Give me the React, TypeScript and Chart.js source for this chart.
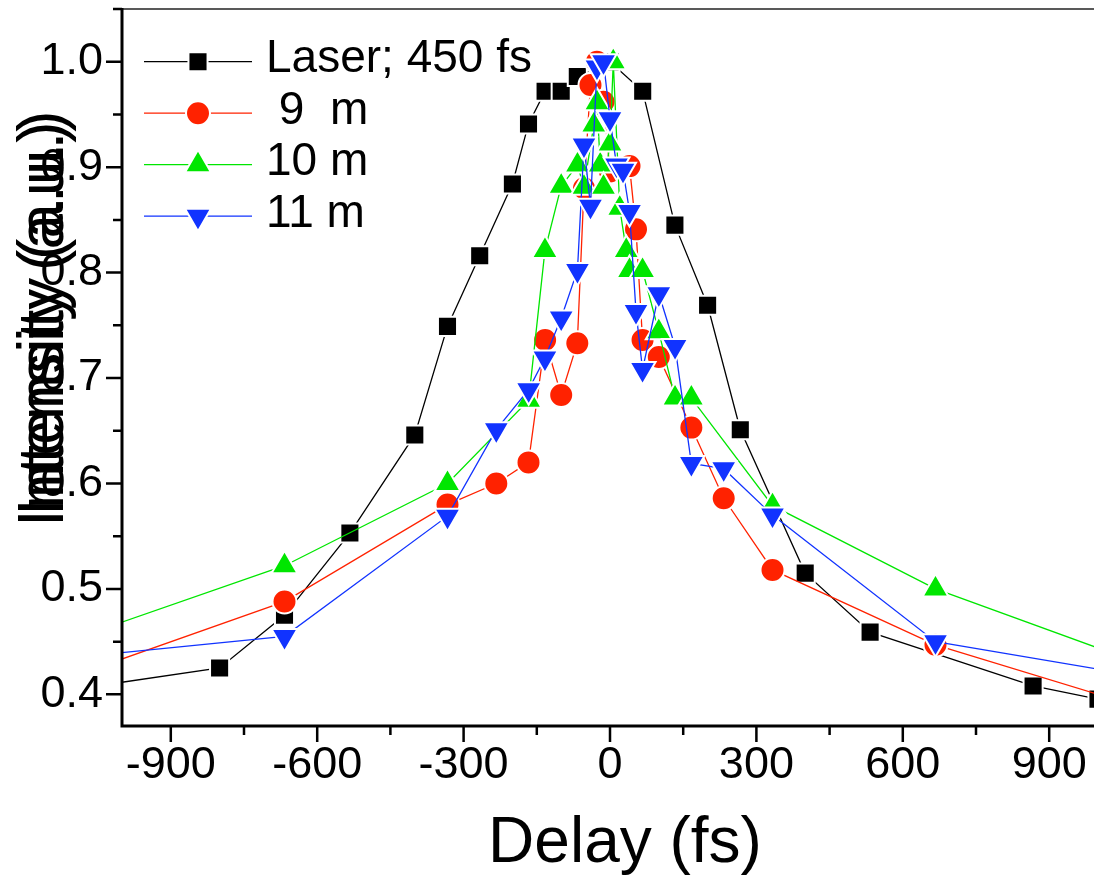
import React, { useEffect, useRef } from 'react';
import { Chart, registerables } from 'chart.js';

Chart.register(...registerables);

// ---------- data ----------
const xMajorTicks = [-900, -600, -300, 0, 300, 600, 900];
const xMinorTicks = [-750, -450, -150, 150, 450, 750];
const yMajorTicks = [0.4, 0.5, 0.6, 0.7, 0.8, 0.9, 1.0];
const yMinorTicks = [0.45, 0.55, 0.65, 0.75, 0.85, 0.95, 1.05];

const xAxisTitle = 'Delay (fs)';
const yAxisTitle = 'Intensity (a.u.)';

const seriesLabels = ['Laser; 450 fs', ' 9  m', '10 m', '11 m'];

const laserX = [-1067, -800, -667, -533, -400, -333, -267, -200, -167, -133, -100, -67, 0, 67, 133, 200, 267, 400, 533, 867, 1000];
const laserY = [0.407, 0.425, 0.475, 0.553, 0.646, 0.749, 0.816, 0.884, 0.941, 0.972, 0.972, 0.986, 1.0, 0.972, 0.845, 0.769, 0.651, 0.515, 0.459, 0.408, 0.3955];

const m9X = [-1333, -667, -333, -233, -167, -133, -100, -67, -53.3, -40, -26.7, -13.3, 0, 40, 53.3, 66.7, 100, 166.7, 233, 333, 667, 1333];
const m9Y = [0.379, 0.488, 0.58, 0.6, 0.62, 0.736, 0.684, 0.733, 0.88, 0.978, 1.0, 0.962, 0.896, 0.901, 0.841, 0.736, 0.72, 0.653, 0.586, 0.518, 0.447, 0.353];

const m10X = [-1333, -667, -333, -166.7, -133.3, -100, -66.7, -53.3, -33.3, -26.7, -20, -13.3, 0, 6.7, 20, 33.3, 40, 66.7, 100, 133.3, 166.7, 333, 667, 1333];
const m10Y = [0.415, 0.522, 0.6, 0.679, 0.821, 0.882, 0.902, 0.881, 0.94, 0.961, 0.902, 0.881, 0.922, 1.0, 0.861, 0.821, 0.802, 0.802, 0.744, 0.681, 0.681, 0.579, 0.5, 0.388];

const m11X = [-1333, -667, -333, -233, -166.7, -133.3, -100, -66.7, -53.3, -40, -26.7, -13.3, 0, 13.3, 26.7, 40, 53.3, 66.7, 100, 133.3, 166.7, 233, 333, 667, 1333];
const m11Y = [0.424, 0.455, 0.569, 0.651, 0.689, 0.719, 0.757, 0.802, 0.921, 0.863, 0.995, 1.0, 0.946, 0.902, 0.897, 0.858, 0.763, 0.708, 0.78, 0.73, 0.619, 0.614, 0.57, 0.45, 0.398];

const FONT = '"Liberation Sans", Arial, sans-serif';

const toPoints = (xs: number[], ys: number[]) => xs.map((x, i) => ({ x, y: ys[i] }));

function markerPath(ctx: CanvasRenderingContext2D, style: string, rot: number, x: number, y: number, r: number) {
  ctx.beginPath();
  if (style === 'rect') {
    const s = Math.SQRT1_2 * r;
    ctx.rect(x - s, y - s, 2 * s, 2 * s);
  } else if (style === 'circle') {
    ctx.arc(x, y, r, 0, Math.PI * 2);
  } else {
    let rad = (rot * Math.PI) / 180;
    ctx.moveTo(x + Math.sin(rad) * r, y - Math.cos(rad) * r);
    rad += (2 * Math.PI) / 3;
    ctx.lineTo(x + Math.sin(rad) * r, y - Math.cos(rad) * r);
    rad += (2 * Math.PI) / 3;
    ctx.lineTo(x + Math.sin(rad) * r, y - Math.cos(rad) * r);
    ctx.closePath();
  }
}

const decorPlugin = {
  id: 'decor',
  afterDraw(chart: any) {
    const { ctx, chartArea: a, scales } = chart;
    const xs = scales.x;
    const ys = scales.y;
    ctx.save();
    // frame
    ctx.strokeStyle = '#222';
    ctx.lineWidth = 1.5;
    ctx.beginPath();
    ctx.moveTo(a.left, a.top);
    ctx.lineTo(a.right + 20, a.top);
    ctx.stroke();
    ctx.strokeStyle = '#000';
    ctx.lineWidth = 3;
    ctx.beginPath();
    ctx.moveTo(a.left, a.top - 1);
    ctx.lineTo(a.left, a.bottom + 1.5);
    ctx.moveTo(a.left - 1.5, a.bottom);
    ctx.lineTo(a.right + 20, a.bottom);
    ctx.stroke();
    // ticks
    ctx.lineWidth = 2.5;
    ctx.beginPath();
    yMajorTicks.forEach((v) => {
      const p = ys.getPixelForValue(v);
      ctx.moveTo(a.left - 16, p);
      ctx.lineTo(a.left, p);
    });
    yMinorTicks.forEach((v) => {
      const p = ys.getPixelForValue(v);
      ctx.moveTo(a.left - 9, p);
      ctx.lineTo(a.left, p);
    });
    xMajorTicks.forEach((v) => {
      const p = xs.getPixelForValue(v);
      ctx.moveTo(p, a.bottom);
      ctx.lineTo(p, a.bottom + 16);
    });
    xMinorTicks.forEach((v) => {
      const p = xs.getPixelForValue(v);
      ctx.moveTo(p, a.bottom);
      ctx.lineTo(p, a.bottom + 9);
    });
    ctx.stroke();

    // axis titles
    ctx.fillStyle = '#000';
    ctx.font = `64px ${FONT}`;
    ctx.textAlign = 'center';
    ctx.textBaseline = 'alphabetic';
    ctx.fillText(xAxisTitle, 625, 862);
    ctx.textAlign = 'left';
    [527, 516].forEach((startY) => {
      ctx.save();
      ctx.translate(63, startY);
      ctx.rotate(-Math.PI / 2);
      ctx.fillText(yAxisTitle, 0, 0);
      ctx.restore();
    });

    // legend
    const rowY0 = a.top + 52.7;
    const rowGap = 51.5;
    ctx.font = `46px ${FONT}`;
    ctx.textBaseline = 'middle';
    chart.data.datasets.forEach((ds: any, i: number) => {
      const yRow = rowY0 + i * rowGap;
      ctx.strokeStyle = ds.borderColor;
      ctx.lineWidth = ds.borderWidth;
      ctx.beginPath();
      ctx.moveTo(a.left + 22, yRow);
      ctx.lineTo(a.left + 130, yRow);
      ctx.stroke();
      markerPath(ctx, ds.pointStyle, ds.pointRotation || 0, a.left + 76, yRow, ds.pointRadius);
      ctx.fillStyle = ds.pointBackgroundColor;
      ctx.fill();
      ctx.strokeStyle = '#fff';
      ctx.lineWidth = ds.pointBorderWidth;
      ctx.stroke();
      ctx.fillStyle = '#000';
      ctx.fillText(ds.label, a.left + 144, yRow - 2);
    });
    ctx.restore();
  },
};

const zeroPad = (s: any) => {
  s.paddingTop = 0;
  s.paddingBottom = 0;
  s.paddingLeft = 0;
  s.paddingRight = 0;
};

export default function App() {
  const ref = useRef<HTMLCanvasElement | null>(null);

  useEffect(() => {
    if (!ref.current) return;
    const mk = (label: string, xs: number[], ys: number[], color: string, style: string, radius: number, order: number, rot = 0) => ({
      label,
      data: toPoints(xs, ys),
      borderColor: color,
      backgroundColor: color,
      borderWidth: 1.3,
      pointStyle: style,
      pointRotation: rot,
      pointRadius: radius,
      pointHoverRadius: radius,
      pointBackgroundColor: color,
      pointBorderColor: '#ffffff',
      pointBorderWidth: 2,
      tension: 0,
      order,
    });
    const chart = new Chart(ref.current, {
      type: 'line',
      data: {
        datasets: [
          mk(seriesLabels[0], laserX, laserY, '#000000', 'rect', 13.5, 4),
          mk(seriesLabels[1], m9X, m9Y, '#ff2200', 'circle', 12, 3),
          mk(seriesLabels[2], m10X, m10Y, '#00e600', 'triangle', 15, 2),
          mk(seriesLabels[3], m11X, m11Y, '#1133ff', 'triangle', 15, 1, 180),
        ] as any,
      },
      options: {
        responsive: false,
        animation: false,
        devicePixelRatio: 1,
        layout: { autoPadding: false, padding: { top: 9, right: 2, left: 0, bottom: 0 } },
        plugins: { legend: { display: false }, tooltip: { enabled: false } },
        events: [],
        scales: {
          x: {
            type: 'linear',
            min: -1000,
            max: 1000,
            grid: { display: false, drawTicks: false },
            border: { display: false },
            afterBuildTicks: (s: any) => {
              s.ticks = xMajorTicks.map((v) => ({ value: v }));
            },
            afterFit: (s: any) => {
              s.height = 157;
              zeroPad(s);
            },
            ticks: {
              autoSkip: false,
              maxRotation: 0,
              padding: 13,
              color: '#000',
              font: { family: FONT, size: 45 },
              callback: (v: any) => String(v),
            },
          },
          y: {
            type: 'linear',
            min: 0.37,
            max: 1.05,
            grid: { display: false, drawTicks: false },
            border: { display: false },
            afterBuildTicks: (s: any) => {
              s.ticks = yMajorTicks.map((v) => ({ value: v }));
            },
            afterFit: (s: any) => {
              s.width = 122;
              zeroPad(s);
            },
            ticks: {
              autoSkip: false,
              padding: 19,
              color: '#000',
              font: { family: FONT, size: 45 },
              callback: (v: any) => Number(v).toFixed(1),
            },
          },
        },
      } as any,
      plugins: [decorPlugin],
    });
    return () => chart.destroy();
  }, []);

  return (
    <div style={{ position: 'fixed', left: 0, top: 0, width: 1094, height: 883, overflow: 'hidden', background: '#fff' }}>
      <canvas ref={ref} width={1100} height={883} style={{ display: 'block' }} />
    </div>
  );
}
